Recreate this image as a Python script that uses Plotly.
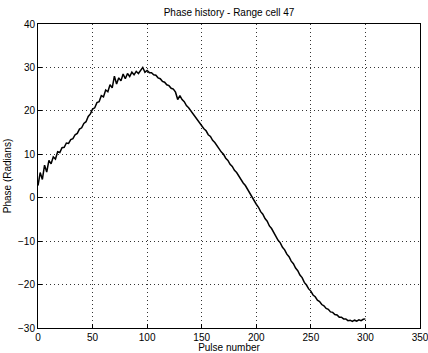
import plotly.graph_objects as go

pulse = list(range(0, 302, 2))
phase = [
    2.8, 5.8, 4.2, 7.5, 5.9, 8.6, 7.8, 9.4, 8.9, 10.6,
    10.4, 11.5, 11.6, 12.6, 12.5, 13.4, 13.6, 14.5, 14.8, 15.8,
    16.1, 17.1, 17.5, 18.7, 19.3, 20.4, 20.7, 21.9, 22.1, 23.5,
    23.2, 24.8, 24.4, 26.0, 25.3, 28.0, 26.2, 27.6, 26.9, 28.5,
    27.4, 28.6, 27.9, 28.9, 28.3, 29.1, 28.6, 29.4, 30.0, 28.9,
    29.3, 28.8, 28.8, 28.3, 28.2, 27.6, 27.4, 26.8, 26.6, 26.0,
    25.8, 25.2, 25.0, 24.3, 22.6, 23.5, 22.6, 22.1, 21.2, 20.7,
    20.0, 19.4, 18.6, 18.1, 17.2, 16.7, 15.9, 15.4, 14.5, 14.1,
    13.2, 12.7, 11.9, 11.4, 10.5, 10.0, 9.1, 8.6, 7.7, 7.2,
    6.3, 5.8, 4.9, 4.3, 3.4, 2.8, 1.9, 1.2, 0.1, -0.5,
    -1.5, -2.2, -3.2, -3.8, -4.8, -5.4, -6.5, -7.1, -8.1, -8.8,
    -9.8, -10.4, -11.4, -12.0, -13.0, -13.6, -14.6, -15.2, -16.2, -16.8,
    -17.8, -18.4, -19.5, -20.1, -21.0, -21.5, -22.4, -22.8, -23.6, -23.9,
    -24.6, -24.9, -25.5, -25.7, -26.3, -26.4, -26.9, -27.0, -27.5, -27.5,
    -27.9, -27.9, -28.3, -28.2, -28.5, -28.2, -28.4, -28.1, -28.3, -28.0,
    -27.9,
]

x_ticks = [0, 50, 100, 150, 200, 250, 300, 350]
y_ticks = [-30, -20, -10, 0, 10, 20, 30, 40]

title_text = "Phase history - Range cell 47"
x_title = "Pulse number"
y_title = "Phase (Radians)"

font = dict(family="Liberation Sans, Arial, sans-serif", size=10, color="black")

fig = go.Figure()
fig.add_trace(go.Scatter(
    x=pulse, y=phase, mode="lines",
    line=dict(color="black", width=1.5),
    showlegend=False,
))

axis_common = dict(
    showline=True, linecolor="black", linewidth=1, mirror=True,
    ticks="inside", ticklen=4, tickcolor="black",
    showgrid=True, gridcolor="#333333", griddash="1px,3px", gridwidth=1,
    zeroline=False, tickfont=font, ticklabeloverflow="allow",
)

fig.update_layout(
    width=428, height=353,
    margin=dict(l=38, r=8, t=24, b=25),
    paper_bgcolor="white", plot_bgcolor="white",
    font=font,
    title=dict(text=title_text, x=0.535, xanchor="center", y=0.965, yanchor="middle",
               font=dict(family="Liberation Sans, Arial, sans-serif", size=10, color="black")),
    xaxis=dict(range=[0, 350], tickvals=x_ticks, automargin=False,
               title=dict(text=x_title, standoff=0, font=font), **axis_common),
    yaxis=dict(range=[-30, 40], tickvals=y_ticks, automargin=False,
               title=dict(text=y_title, standoff=4, font=font), **axis_common),
)

fig.write_html("out.html")
